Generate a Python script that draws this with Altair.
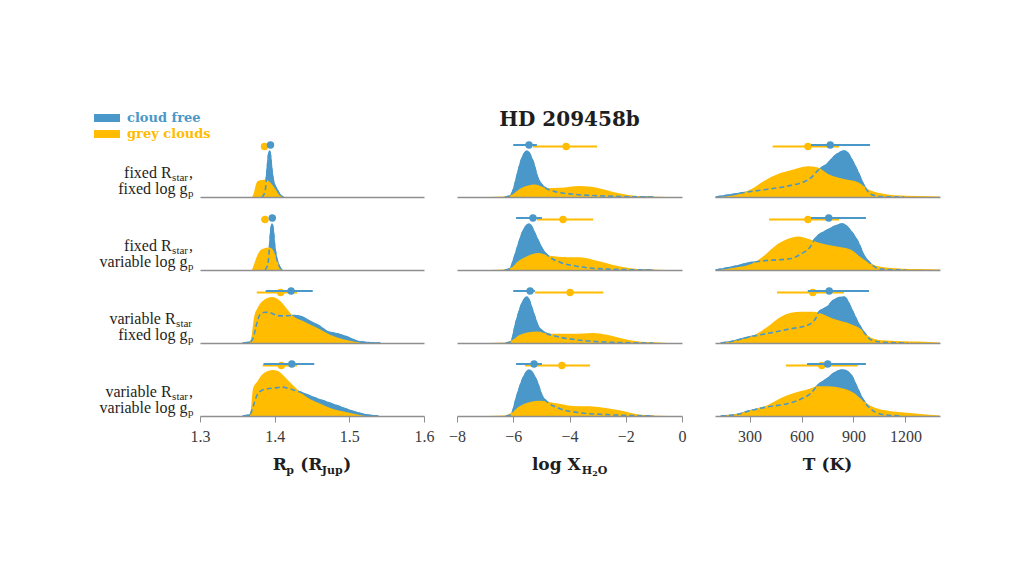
import altair as alt
import pandas as pd

# ---------------- data ----------------
TITLE = "HD 209458b"
SERIES = ["cloud free", "grey clouds"]
SERIES_COLORS = ["#4A98C9", "#FFBC00"]

ROW_LINE1_MAIN = ["fixed R", "fixed R", "variable R", "variable R"]
ROW_LINE1_SUB = ["star", "star", "star", "star"]
ROW_LINE1_END = [",", ",", "", ","]
ROW_LINE2_MAIN = ["fixed log g", "variable log g", "fixed log g", "variable log g"]
ROW_LINE2_SUB = ["p", "p", "p", "p"]

# axis titles as (text, level) pieces: 0 main, 1 subscript, 2 sub-subscript
AXIS_TITLE_RP = [("R", 0), ("p", 1), (" (R", 0), ("Jup", 1), (")", 0)]
AXIS_TITLE_H2O = [("log X", 0), ("H", 1), ("2", 2), ("O", 1)]
AXIS_TITLE_T = [("T (K)", 0)]

RP_DOMAIN = [1.3, 1.6]
RP_TICKS = [1.3, 1.4, 1.5, 1.6]
H2O_DOMAIN = [-8, 0]
H2O_TICKS = [-8, -6, -4, -2, 0]
T_DOMAIN = [100, 1400]
T_TICKS = [300, 600, 900, 1200]

# --- planet radius (R_Jup) posteriors, normalised ---
RP_R1_FREE_X = [1.3830, 1.3871, 1.3897, 1.3917, 1.3931, 1.3944, 1.3964, 1.3991, 1.4018, 1.4045, 1.4071, 1.4112]
RP_R1_FREE_Y = [0, 0.12, 0.55, 0.9, 1.0, 0.9, 0.55, 0.3, 0.2, 0.12, 0.05, 0]
RP_R1_GREY_X = [1.3696, 1.3723, 1.3750, 1.3777, 1.3830, 1.3884, 1.3911, 1.3951, 1.3991, 1.4031, 1.4071, 1.4098]
RP_R1_GREY_Y = [0, 0.1, 0.28, 0.35, 0.37, 0.38, 0.36, 0.3, 0.22, 0.12, 0.04, 0]

RP_R2_FREE_X = [1.3871, 1.3911, 1.3931, 1.3951, 1.3964, 1.3978, 1.3998, 1.4018, 1.4045, 1.4071, 1.4098]
RP_R2_FREE_Y = [0, 0.15, 0.5, 0.88, 1.0, 0.9, 0.55, 0.32, 0.15, 0.05, 0]
RP_R2_GREY_X = [1.3696, 1.3723, 1.3763, 1.3804, 1.3857, 1.3911, 1.3951, 1.3991, 1.4031, 1.4071, 1.4098]
RP_R2_GREY_Y = [0, 0.12, 0.3, 0.42, 0.47, 0.49, 0.48, 0.4, 0.22, 0.06, 0]

RP_R3_FREE_X = [1.3576, 1.3670, 1.3710, 1.3763, 1.3804, 1.3871, 1.3937, 1.4031, 1.4112, 1.4245, 1.4339,
                1.4473, 1.4607, 1.4701, 1.4835, 1.4969, 1.5103, 1.5237, 1.5411]
RP_R3_FREE_Y = [0, 0.02, 0.1, 0.44, 0.62, 0.67, 0.66, 0.6, 0.59, 0.6, 0.58, 0.47, 0.36, 0.25, 0.2, 0.13, 0.04, 0.01, 0]
RP_R3_GREY_X = [1.3670, 1.3696, 1.3723, 1.3777, 1.3844, 1.3964, 1.4071, 1.4165, 1.4245, 1.4379, 1.4567,
                1.4741, 1.4915, 1.5103, 1.5170]
RP_R3_GREY_Y = [0, 0.2, 0.55, 0.78, 0.92, 1.0, 0.92, 0.74, 0.59, 0.48, 0.33, 0.18, 0.08, 0.02, 0]

RP_R4_FREE_X = [1.3576, 1.3670, 1.3710, 1.3763, 1.3830, 1.3897, 1.4004, 1.4098, 1.4205, 1.4339, 1.4513,
                1.4701, 1.4875, 1.5049, 1.5237, 1.5384]
RP_R4_FREE_Y = [0, 0.03, 0.2, 0.45, 0.56, 0.59, 0.61, 0.63, 0.59, 0.52, 0.41, 0.3, 0.2, 0.1, 0.02, 0]
RP_R4_GREY_X = [1.3670, 1.3683, 1.3710, 1.3763, 1.3844, 1.3978, 1.4071, 1.4165, 1.4299, 1.4433, 1.4607,
                1.4781, 1.4969, 1.5143, 1.5210]
RP_R4_GREY_Y = [0, 0.15, 0.6, 0.74, 0.92, 1.0, 0.95, 0.8, 0.59, 0.41, 0.27, 0.15, 0.08, 0.02, 0]

RP_FREE_MED = [1.3944, 1.3968, 1.422, 1.423]
RP_FREE_LO = [1.3897, 1.3924, 1.388, 1.385]
RP_FREE_HI = [1.3991, 1.4018, 1.451, 1.453]
RP_GREY_MED = [1.3864, 1.3871, 1.408, 1.409]
RP_GREY_LO = [1.3817, 1.3817, 1.376, 1.384]
RP_GREY_HI = [1.3911, 1.3911, 1.430, 1.430]

# --- log water abundance posteriors ---
H2O_R1_FREE_X = [-6.293, -6.116, -5.973, -5.867, -5.689, -5.511, -5.298, -5.12, -4.942, -4.587, -3.876, -2.667, -1.031]
H2O_R1_FREE_Y = [0, 0.02, 0.2, 0.46, 0.84, 1.0, 0.77, 0.4, 0.24, 0.13, 0.06, 0.02, 0]
H2O_R1_GREY_X = [-6.898, -6.293, -6.044, -5.76, -5.476, -5.227, -4.8, -4.338, -3.627, -3.022, -2.453, -1.849, -1.138, -0.533]
H2O_R1_GREY_Y = [0, 0.01, 0.05, 0.18, 0.25, 0.27, 0.19, 0.2, 0.24, 0.2, 0.11, 0.04, 0.01, 0]

H2O_R2_FREE_X = [-6.293, -6.116, -5.973, -5.831, -5.653, -5.44, -5.156, -4.942, -4.764, -4.338, -3.627, -2.667, -1.031]
H2O_R2_FREE_Y = [0, 0.03, 0.25, 0.53, 0.84, 1.0, 0.69, 0.43, 0.31, 0.17, 0.07, 0.02, 0]
H2O_R2_GREY_X = [-6.827, -6.293, -6.044, -5.867, -5.511, -5.12, -4.693, -4.089, -3.627, -3.022, -2.453, -1.849, -1.138, -0.533]
H2O_R2_GREY_Y = [0, 0.01, 0.06, 0.17, 0.3, 0.37, 0.31, 0.28, 0.28, 0.2, 0.11, 0.04, 0.01, 0]

H2O_R3_FREE_X = [-6.258, -6.08, -5.902, -5.689, -5.511, -5.298, -5.12, -4.942, -4.444, -3.876, -2.667, -1.031]
H2O_R3_FREE_Y = [0, 0.03, 0.45, 0.86, 1.0, 0.68, 0.37, 0.25, 0.14, 0.08, 0.02, 0]
H2O_R3_GREY_X = [-6.827, -6.293, -6.044, -5.76, -5.156, -4.693, -3.876, -3.164, -2.667, -2.204, -1.742, -1.138, -0.498]
H2O_R3_GREY_Y = [0, 0.01, 0.06, 0.18, 0.25, 0.2, 0.2, 0.22, 0.18, 0.11, 0.05, 0.02, 0]

H2O_R4_FREE_X = [-6.258, -6.08, -5.867, -5.653, -5.44, -5.156, -4.978, -4.8, -4.338, -3.627, -2.667, -1.031]
H2O_R4_FREE_Y = [0, 0.03, 0.44, 0.82, 1.0, 0.75, 0.44, 0.31, 0.16, 0.07, 0.03, 0]
H2O_R4_GREY_X = [-6.898, -6.293, -6.044, -5.76, -5.049, -4.587, -3.876, -3.271, -2.667, -2.098, -1.6, -1.138, -0.498]
H2O_R4_GREY_Y = [0, 0.01, 0.08, 0.22, 0.33, 0.29, 0.22, 0.21, 0.17, 0.11, 0.04, 0.01, 0]

H2O_FREE_MED = [-5.44, -5.3, -5.4, -5.26]
H2O_FREE_LO = [-6.0, -5.9, -6.0, -5.9]
H2O_FREE_HI = [-5.16, -4.98, -5.23, -4.98]
H2O_GREY_MED = [-4.12, -4.23, -3.98, -4.27]
H2O_GREY_LO = [-5.3, -5.16, -5.23, -5.58]
H2O_GREY_HI = [-3.02, -3.16, -2.8, -3.27]

# --- temperature (K) posteriors ---
T_R1_FREE_X = [106, 210, 308, 406, 522, 597, 655, 701, 751, 788, 851, 896, 925, 961, 1001, 1059, 1192]
T_R1_FREE_Y = [0, 0.06, 0.12, 0.17, 0.24, 0.31, 0.42, 0.6, 0.73, 0.88, 1.0, 0.77, 0.55, 0.25, 0.06, 0.01, 0]
T_R1_GREY_X = [106, 210, 308, 383, 464, 539, 637, 695, 753, 845, 926, 984, 1059, 1134, 1273, 1400]
T_R1_GREY_Y = [0, 0.04, 0.17, 0.35, 0.5, 0.58, 0.67, 0.64, 0.5, 0.39, 0.32, 0.17, 0.08, 0.04, 0.02, 0.01]

T_R2_FREE_X = [106, 192, 308, 406, 522, 597, 655, 672, 751, 838, 886, 925, 961, 1001, 1059, 1204]
T_R2_FREE_Y = [0, 0.06, 0.16, 0.21, 0.24, 0.35, 0.53, 0.65, 0.87, 1.0, 0.84, 0.62, 0.31, 0.13, 0.02, 0]
T_R2_GREY_X = [117, 210, 308, 383, 464, 522, 580, 637, 695, 788, 886, 944, 1001, 1100, 1273, 1400]
T_R2_GREY_Y = [0, 0.05, 0.13, 0.31, 0.57, 0.68, 0.73, 0.68, 0.6, 0.52, 0.44, 0.27, 0.13, 0.05, 0.02, 0.01]

T_R3_FREE_X = [135, 175, 308, 406, 522, 637, 684, 701, 751, 788, 845, 896, 925, 961, 1001, 1059, 1215]
T_R3_FREE_Y = [0, 0.02, 0.14, 0.21, 0.3, 0.39, 0.55, 0.68, 0.79, 0.94, 1.0, 0.68, 0.45, 0.23, 0.07, 0.02, 0]
T_R3_GREY_X = [135, 210, 308, 406, 481, 539, 597, 672, 712, 788, 886, 944, 984, 1059, 1175, 1273, 1400]
T_R3_GREY_Y = [0, 0.05, 0.14, 0.36, 0.57, 0.66, 0.68, 0.68, 0.64, 0.52, 0.41, 0.3, 0.15, 0.06, 0.04, 0.03, 0.01]

T_R4_FREE_X = [135, 210, 308, 406, 522, 597, 655, 689, 751, 788, 838, 886, 915, 953, 1001, 1059, 1175]
T_R4_FREE_Y = [0, 0.02, 0.12, 0.2, 0.27, 0.37, 0.5, 0.65, 0.82, 0.93, 1.0, 0.89, 0.67, 0.37, 0.15, 0.04, 0]
T_R4_GREY_X = [135, 210, 308, 406, 481, 556, 637, 695, 753, 828, 903, 944, 1001, 1076, 1175, 1273, 1400]
T_R4_GREY_Y = [0, 0.03, 0.13, 0.24, 0.39, 0.5, 0.58, 0.65, 0.65, 0.61, 0.5, 0.37, 0.22, 0.13, 0.08, 0.05, 0.01]

T_FREE_MED = [766, 757, 760, 751]
T_FREE_LO = [655, 655, 636, 632]
T_FREE_HI = [996, 972, 990, 972]
T_GREY_MED = [637, 637, 665, 717]
T_GREY_LO = [433, 412, 458, 510]
T_GREY_HI = [817, 817, 845, 925]

# ---------------- assembly ----------------
BLUE, YELLOW = SERIES_COLORS
SERIF = "Liberation Serif"
BOLD = "DejaVu Serif"
AXIS_GREY = "#8f8f8f"
TEXT = "#1e1e1e"

CELL_H = 62
HEADER_H = 111
FOOT_H = 50
LABEL_W = 154
COL_W = [224, 225, 225]
HSP = 33
VSP = 11

COLUMNS = [
    dict(domain=RP_DOMAIN, ticks=RP_TICKS, fmt=".1f",
         curves=[(RP_R1_FREE_X, RP_R1_FREE_Y, RP_R1_GREY_X, RP_R1_GREY_Y),
                 (RP_R2_FREE_X, RP_R2_FREE_Y, RP_R2_GREY_X, RP_R2_GREY_Y),
                 (RP_R3_FREE_X, RP_R3_FREE_Y, RP_R3_GREY_X, RP_R3_GREY_Y),
                 (RP_R4_FREE_X, RP_R4_FREE_Y, RP_R4_GREY_X, RP_R4_GREY_Y)],
         err=(RP_FREE_MED, RP_FREE_LO, RP_FREE_HI, RP_GREY_MED, RP_GREY_LO, RP_GREY_HI),
         title=AXIS_TITLE_RP),
    dict(domain=H2O_DOMAIN, ticks=H2O_TICKS, fmt="d",
         curves=[(H2O_R1_FREE_X, H2O_R1_FREE_Y, H2O_R1_GREY_X, H2O_R1_GREY_Y),
                 (H2O_R2_FREE_X, H2O_R2_FREE_Y, H2O_R2_GREY_X, H2O_R2_GREY_Y),
                 (H2O_R3_FREE_X, H2O_R3_FREE_Y, H2O_R3_GREY_X, H2O_R3_GREY_Y),
                 (H2O_R4_FREE_X, H2O_R4_FREE_Y, H2O_R4_GREY_X, H2O_R4_GREY_Y)],
         err=(H2O_FREE_MED, H2O_FREE_LO, H2O_FREE_HI, H2O_GREY_MED, H2O_GREY_LO, H2O_GREY_HI),
         title=AXIS_TITLE_H2O),
    dict(domain=T_DOMAIN, ticks=T_TICKS, fmt="d",
         curves=[(T_R1_FREE_X, T_R1_FREE_Y, T_R1_GREY_X, T_R1_GREY_Y),
                 (T_R2_FREE_X, T_R2_FREE_Y, T_R2_GREY_X, T_R2_GREY_Y),
                 (T_R3_FREE_X, T_R3_FREE_Y, T_R3_GREY_X, T_R3_GREY_Y),
                 (T_R4_FREE_X, T_R4_FREE_Y, T_R4_GREY_X, T_R4_GREY_Y)],
         err=(T_FREE_MED, T_FREE_LO, T_FREE_HI, T_GREY_MED, T_GREY_LO, T_GREY_HI),
         title=AXIS_TITLE_T),
]


def cell(c, r):
    col = COLUMNS[c]
    fx, fy, gx, gy = col["curves"][r]
    fmed, flo, fhi, gmed, glo, ghi = col["err"]
    if r == 3:
        axis = alt.Axis(values=col["ticks"], format=col["fmt"], title=None, grid=False,
                        tickSize=6, tickColor=AXIS_GREY, tickWidth=1, labelFlush=False,
                        labelFont=SERIF, labelFontSize=16, labelColor="#3a3a3a", labelPadding=6,
                        domainColor=AXIS_GREY, domainWidth=1.6, zindex=1)
    else:
        axis = alt.Axis(title=None, grid=False, labels=False, ticks=False,
                        domainColor=AXIS_GREY, domainWidth=1.6, zindex=1)
    xs = alt.Scale(domain=col["domain"], nice=False, zero=False)
    ys = alt.Scale(domain=[0, 1.35], nice=False)

    def X(f):
        return alt.X(f"{f}:Q", scale=xs, axis=axis)

    Y = alt.Y("d:Q", scale=ys, axis=None)
    free = pd.DataFrame({"v": fx, "d": fy})
    grey = pd.DataFrame({"v": gx, "d": gy})
    a_free = alt.Chart(free).mark_area(fill=BLUE, stroke=BLUE, strokeWidth=1.6, strokeJoin="round",
                                       interpolate="monotone").encode(x=X("v"), y=Y)
    a_grey = alt.Chart(grey).mark_area(fill=YELLOW, interpolate="monotone").encode(x=X("v"), y=Y)
    dash = alt.Chart(free).mark_line(color=BLUE, strokeDash=[5, 3], strokeWidth=1.6,
                                     interpolate="monotone").encode(x=X("v"), y=Y)
    layers = [a_free, a_grey, dash]
    for med, lo, hi, color, ypx in [(gmed, glo, ghi, YELLOW, 11.5), (fmed, flo, fhi, BLUE, 10)]:
        e = pd.DataFrame({"med": [med[r]], "lo": [lo[r]], "hi": [hi[r]]})
        layers.append(alt.Chart(e).mark_rule(color=color, strokeWidth=2).encode(
            x=X("lo"), x2="hi", y=alt.value(ypx)))
        layers.append(alt.Chart(e).mark_circle(color=color, size=55, opacity=1).encode(
            x=X("med"), y=alt.value(ypx)))
    return alt.layer(*layers).properties(width=COL_W[c], height=CELL_H)


SERIF_W = {"s": 0.389, "t": 0.278, "a": 0.444, "r": 0.333, "p": 0.5, ",": 0.25}
BOLD_W = {"R": 0.80, "p": 0.72, " ": 0.35, "(": 0.47, ")": 0.47, "J": 0.50, "u": 0.73,
          "l": 0.37, "o": 0.69, "g": 0.72, "X": 0.80, "H": 0.95, "2": 0.70, "O": 0.85,
          "T": 0.75, "K": 0.86}


def w_serif(t, size):
    return sum(SERIF_W.get(ch, 0.5) for ch in t) * size


def w_bold(t, size):
    return sum(BOLD_W.get(ch, 0.7) for ch in t) * size


def txt(df, align, size, font=SERIF, weight="normal"):
    return alt.Chart(df).mark_text(align=align, baseline="alphabetic", font=font, fontSize=size,
                                   fontWeight=weight, color=TEXT).encode(
        x=alt.X("x:Q", scale=None, axis=None), y=alt.Y("y:Q", scale=None, axis=None), text="t:N")


def blank(w, h):
    return alt.Chart(pd.DataFrame({"a": [0]})).mark_point(opacity=0).encode(
        x=alt.value(w / 2), y=alt.value(h / 2)).properties(width=w, height=h)


LABEL_RIGHT = 180
MAIN_FS, SUB_FS = 16, 11


def label_chart(r):
    mains, subs, ends = [], [], []
    end = ROW_LINE1_END[r]
    wsub = w_serif(ROW_LINE1_SUB[r], SUB_FS) + 1.5
    a1 = LABEL_RIGHT - wsub - w_serif(end, MAIN_FS)
    mains.append({"t": ROW_LINE1_MAIN[r], "x": a1, "y": 43})
    subs.append({"t": ROW_LINE1_SUB[r], "x": a1 + 0.5, "y": 45.5})
    if end:
        ends.append({"t": end, "x": a1 + wsub, "y": 43})
    a2 = LABEL_RIGHT - w_serif(ROW_LINE2_SUB[r], SUB_FS)
    mains.append({"t": ROW_LINE2_MAIN[r], "x": a2, "y": 59})
    subs.append({"t": ROW_LINE2_SUB[r], "x": a2 + 0.5, "y": 62})
    layers = [txt(pd.DataFrame(mains), "right", MAIN_FS), txt(pd.DataFrame(subs), "left", SUB_FS)]
    if ends:
        layers.append(txt(pd.DataFrame(ends), "left", MAIN_FS))
    return alt.layer(*layers).properties(width=LABEL_W, height=CELL_H)


# header: legend + title
leg = pd.DataFrame({"s": SERIES})
leg_y = alt.Y("s:N", scale=alt.Scale(type="point", domain=SERIES, range=[105, 121], padding=0), axis=None)
leg_c = alt.Color("s:N", scale=alt.Scale(domain=SERIES, range=SERIES_COLORS), legend=None)
leg_sw = alt.Chart(leg).mark_rule(strokeWidth=8).encode(x=alt.value(81), x2=alt.value(107), y=leg_y, color=leg_c)
leg_tx = alt.Chart(leg).mark_text(align="left", baseline="middle", font=BOLD, fontSize=13,
                                  fontWeight="bold").encode(x=alt.value(114), y=leg_y, text="s:N", color=leg_c)
legend_chart = alt.layer(leg_sw, leg_tx).properties(width=LABEL_W, height=HEADER_H)
title_chart = alt.Chart(pd.DataFrame({"t": [TITLE]})).mark_text(
    align="center", baseline="middle", font=BOLD, fontSize=20, fontWeight="bold", color=TEXT
).encode(x=alt.value(COL_W[1] / 2), y=alt.value(107), text="t:N").properties(width=COL_W[1], height=HEADER_H)

# axis titles (one cell per column)
SIZES = {0: 17, 1: 11, 2: 8}
DROPS = {0: 0, 1: 4, 2: 6}


def axis_title_chart(c):
    pieces = {0: [], 1: [], 2: []}
    parts = COLUMNS[c]["title"]
    total = sum(w_bold(t, SIZES[lv]) for t, lv in parts)
    x = COL_W[c] / 2 - total / 2
    for t, lv in parts:
        lead = len(t) - len(t.lstrip(" "))
        pieces[lv].append({"t": t.strip(" "), "x": x + w_bold(" " * lead, SIZES[lv]), "y": 43 + DROPS[lv]})
        x += w_bold(t, SIZES[lv])
    layers = [txt(pd.DataFrame(pieces[lv]), "left", SIZES[lv], font=BOLD, weight="bold")
              for lv in (0, 1, 2) if pieces[lv]]
    return alt.layer(*layers).properties(width=COL_W[c], height=FOOT_H)


cells = [legend_chart, blank(COL_W[0], HEADER_H), title_chart, blank(COL_W[2], HEADER_H)]
for r in range(4):
    cells += [label_chart(r), cell(0, r), cell(1, r), cell(2, r)]
cells += [blank(LABEL_W, FOOT_H), axis_title_chart(0), axis_title_chart(1), axis_title_chart(2)]

chart = alt.concat(*cells, columns=4, spacing={"row": VSP, "column": HSP},
                   bounds="flush").configure_view(stroke=None)
chart.save("out.html", embed_options={"renderer": "svg", "actions": False})
